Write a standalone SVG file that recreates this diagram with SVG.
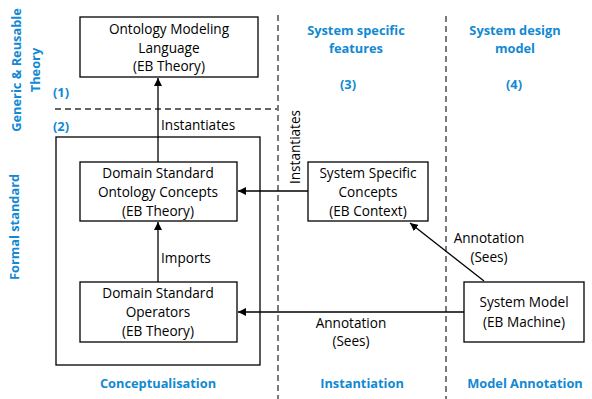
<svg xmlns="http://www.w3.org/2000/svg" width="592" height="399" viewBox="0 0 592 399">
<defs>
<style>
.box{fill:#fff;stroke:#000;stroke-width:1.3}
.t{font-family:"Open Sans","Noto Sans",sans-serif;font-size:13.6px;fill:#000;text-anchor:middle}
.l{font-family:"Open Sans","Noto Sans",sans-serif;font-size:13.6px;fill:#000}
.b{font-family:"Open Sans","Noto Sans",sans-serif;font-size:12.8px;font-weight:bold;fill:#1189d3;text-anchor:middle}
.c{stroke:#000;stroke-width:1.3;fill:none}
.d{stroke:#333;stroke-width:1.3;fill:none;stroke-dasharray:6,4}
</style>
<marker id="ah" viewBox="0 0 10 10" refX="10" refY="5" markerWidth="8" markerHeight="8" markerUnits="userSpaceOnUse" orient="auto">
<path d="M0,0 L10,5 L0,10 z" fill="#000"/>
</marker>
</defs>
<rect width="592" height="399" fill="#fff"/>
<g id="separators">
<line class="d" x1="278" y1="15" x2="278" y2="399"/>
<line class="d" x1="446" y1="16" x2="446" y2="399"/>
<line class="d" x1="55" y1="109" x2="277" y2="109"/>
</g>
<g id="labels">
<text class="b" transform="translate(21,70) rotate(-90)">Generic &amp; Reusable</text>
<text class="b" transform="translate(40,70) rotate(-90)">Theory</text>
<text class="b" transform="translate(19,227) rotate(-90)">Formal standard</text>
<text class="b" x="61" y="97">(1)</text>
<text class="b" x="61" y="131">(2)</text>
<text class="b" x="356" y="35">System specific</text>
<text class="b" x="356" y="53">features</text>
<text class="b" x="348" y="89">(3)</text>
<text class="b" x="515" y="35">System design</text>
<text class="b" x="515" y="53">model</text>
<text class="b" x="514" y="89">(4)</text>
<text class="b" x="158" y="388">Conceptualisation</text>
<text class="b" x="362" y="388">Instantiation</text>
<text class="b" x="525" y="388">Model Annotation</text>
</g>
<g id="formal-standard-frame">
<rect class="box" x="56" y="137" width="204" height="228" fill="none"/>
</g>
<g id="connectors">
<line class="c" x1="158" y1="162" x2="158" y2="78" marker-end="url(#ah)"/>
<line class="c" x1="158" y1="282" x2="158" y2="222" marker-end="url(#ah)"/>
<line class="c" x1="308" y1="191" x2="238" y2="191" marker-end="url(#ah)"/>
<line class="c" x1="464" y1="312" x2="238" y2="312" marker-end="url(#ah)"/>
<line class="c" x1="484" y1="281" x2="410" y2="223" marker-end="url(#ah)"/>
<text class="l" x="161" y="130">Instantiates</text>
<text class="l" transform="translate(300,147) rotate(-90)" text-anchor="middle">Instantiates</text>
<text class="l" x="161" y="263">Imports</text>
<text class="t" x="489" y="243">Annotation</text>
<text class="t" x="489" y="262">(Sees)</text>
<text class="t" x="351" y="328">Annotation</text>
<text class="t" x="351" y="346">(Sees)</text>
</g>
<g id="oml">
<rect class="box" x="80" y="17" width="178" height="60"/>
<text class="t" x="169" y="34">Ontology Modeling</text>
<text class="t" x="169" y="53">Language</text>
<text class="t" x="169" y="71">(EB Theory)</text>
</g>
<g id="dsoc">
<rect class="box" x="80" y="162" width="157" height="59"/>
<text class="t" x="158" y="178">Domain Standard</text>
<text class="t" x="158" y="197">Ontology Concepts</text>
<text class="t" x="158" y="216">(EB Theory)</text>
</g>
<g id="dso">
<rect class="box" x="80" y="282" width="157" height="60"/>
<text class="t" x="158" y="298">Domain Standard</text>
<text class="t" x="158" y="317">Operators</text>
<text class="t" x="158" y="336">(EB Theory)</text>
</g>
<g id="ssc">
<rect class="box" x="308" y="162" width="120" height="59"/>
<text class="t" x="368" y="178">System Specific</text>
<text class="t" x="368" y="197">Concepts</text>
<text class="t" x="368" y="216">(EB Context)</text>
</g>
<g id="sm">
<rect class="box" x="464" y="282" width="120" height="60"/>
<text class="t" x="524" y="307">System Model</text>
<text class="t" x="524" y="327">(EB Machine)</text>
</g>
</svg>
